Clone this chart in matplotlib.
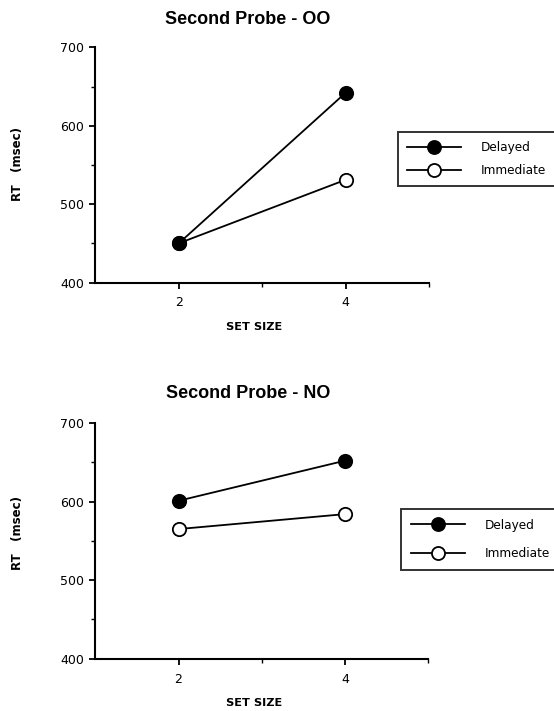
import matplotlib
matplotlib.use("Agg")
import matplotlib.pyplot as plt
from matplotlib.lines import Line2D
from matplotlib.ticker import FixedLocator

set_sizes = [2, 4]
oo_delayed = [450, 642]
oo_immediate = [450, 531]
no_delayed = [601, 652]
no_immediate = [565, 584]
titles = ["Second Probe - OO", "Second Probe - NO"]
series_labels = ["Delayed", "Immediate"]
y_ticks = [400, 500, 600, 700]
y_minor = [450, 550, 650]
x_minor = [3, 5]

plt.rcParams['font.family'] = ['DejaVu Sans']

fig = plt.figure(figsize=(5.54, 7.11), dpi=100)
W, H = 554, 711

def px_axes(l, r, t, b):
    return [l / W, 1 - b / H, (r - l) / W, (b - t) / H]

panels = [
    dict(rect=px_axes(95.4, 429, 47.3, 282.5), d=oo_delayed, im=oo_immediate, title=titles[0],
         title_y=20, xlab_y=327, ylab_y=164, leg=(397.5, 132), ls=0.79, bp=0.76),
    dict(rect=px_axes(95.4, 428, 423, 658.7), d=no_delayed, im=no_immediate, title=titles[1],
         title_y=394, xlab_y=703, ylab_y=533, leg=(401, 509), ls=1.29, bp=0.8),
]

for p in panels:
    ax = fig.add_axes(p['rect'])
    ax.plot(set_sizes, p['im'], color='black', lw=1.3, marker='o', ms=9.6,
            mfc='white', mec='black', mew=1.3, zorder=3, clip_on=False)
    ax.plot(set_sizes, p['d'], color='black', lw=1.3, marker='o', ms=9.6,
            mfc='black', mec='black', mew=1.3, zorder=4, clip_on=False)
    ax.set_xlim(1, 5)
    ax.set_ylim(400, 700)
    ax.spines['top'].set_visible(False)
    ax.spines['right'].set_visible(False)
    ax.spines['left'].set_linewidth(1.5)
    ax.spines['bottom'].set_linewidth(1.5)
    ax.set_xticks(set_sizes)
    ax.set_xticklabels([str(s) for s in set_sizes])
    ax.xaxis.set_minor_locator(FixedLocator(x_minor))
    ax.set_yticks(y_ticks)
    ax.yaxis.set_minor_locator(FixedLocator(y_minor))
    ax.tick_params(axis='x', which='major', length=4, width=1.3, labelsize=9, pad=6)
    ax.tick_params(axis='y', which='major', length=4, width=1.3, labelsize=9, pad=4)
    ax.tick_params(axis='both', which='minor', length=3, width=1.0)
    fig.text(248 / W, 1 - p['title_y'] / H, p['title'], ha='center', va='center',
             fontsize=13, fontweight='bold', family='Liberation Sans')
    fig.text(254 / W, 1 - p['xlab_y'] / H, "SET SIZE", ha='center', va='center',
             fontsize=8.2, fontweight='bold')
    fig.text(18 / W, 1 - p['ylab_y'] / H, "RT   (msec)", ha='center', va='center',
             rotation=90, fontsize=8.5, fontweight='bold')
    lx, lt = p['leg']
    handles = [
        Line2D([], [], color='black', lw=1.3, marker='o', ms=9.4, mfc='black', mec='black', mew=1.3),
        Line2D([], [], color='black', lw=1.3, marker='o', ms=9.4, mfc='white', mec='black', mew=1.3),
    ]
    leg = fig.legend(handles, series_labels, loc='upper left',
                     bbox_to_anchor=(lx / W, 1 - lt / H - 0.3, 0.4, 0.3),
                     mode='expand', fontsize=8.7, frameon=True, fancybox=False,
                     edgecolor='black', handlelength=4.5, handletextpad=1.6,
                     borderpad=p['bp'], labelspacing=p['ls'], borderaxespad=0)
    leg.get_frame().set_linewidth(1.4)

fig.savefig("out.png", dpi=100)
